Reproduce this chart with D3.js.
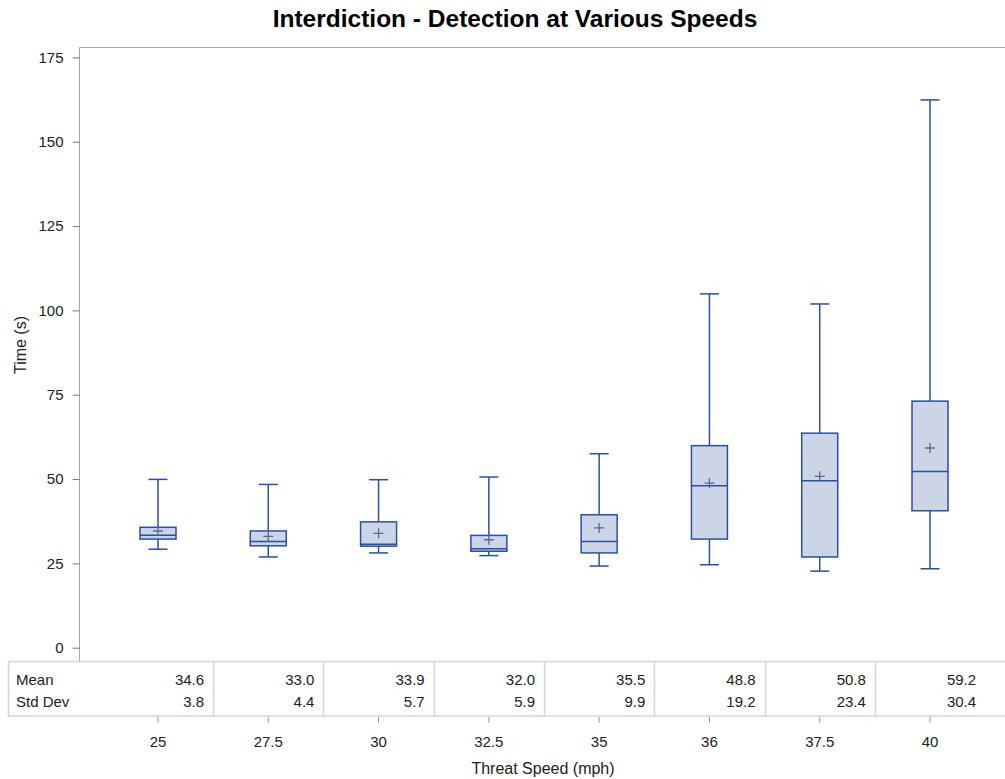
<!DOCTYPE html>
<html>
<head>
<meta charset="utf-8">
<script src="https://cdn.jsdelivr.net/npm/d3@7"></script>
<style>
  body { margin: 0; background: #fff; }
  svg { font-family: "Liberation Sans", Arial, sans-serif; }
</style>
</head>
<body>
<svg id="chart" width="1005" height="779"></svg>
<script>
"use strict";

// Data
var speeds   = ["25", "27.5", "30", "32.5", "35", "36", "37.5", "40"];
var whiskLow = [29.2, 26.9, 28.1, 27.3, 24.2, 24.6, 22.7, 23.4];
var q1       = [32.2, 30.2, 30.1, 28.6, 28.1, 32.2, 26.9, 40.6];
var median   = [33.3, 31.5, 30.7, 29.3, 31.5, 48.0, 49.5, 52.2];
var q3       = [35.7, 34.6, 37.3, 33.3, 39.4, 59.9, 63.6, 73.1];
var whiskHi  = [49.9, 48.4, 49.8, 50.6, 57.5, 104.9, 101.9, 162.4];
var means    = [34.6, 33.0, 33.9, 32.0, 35.5, 48.8, 50.8, 59.2];
var stdDevs  = [3.8, 4.4, 5.7, 5.9, 9.9, 19.2, 23.4, 30.4];
var yTicks   = [0, 25, 50, 75, 100, 125, 150, 175];

var svg = d3.select("#chart");

var lineColor = "#2a4fa6",
    fillColor = "#cbd5e6",
    meanColor = "#56679c",
    gridGrey  = "#d4d4d4",
    textColor = "#222";

// Scales
var x = d3.scaleBand()
    .domain(speeds)
    .range([102.85, 985.15])
    .padding(0);

var y = d3.scaleLinear()
    .domain([0, 175])
    .range([647.7, 57.4]);

var boxW = 36, capW = 19;

// Title
svg.append("text")
    .attr("x", 515)
    .attr("y", 27)
    .attr("text-anchor", "middle")
    .style("font-size", "24.5px")
    .style("font-weight", "bold")
    .attr("fill", "#000")
    .text("Interdiction - Detection at Various Speeds");

// Frame: left and top line
svg.append("line")
    .attr("x1", 79.5).attr("x2", 79.5)
    .attr("y1", 47.5).attr("y2", 662)
    .attr("stroke", "#a0a6aa");
svg.append("line")
    .attr("x1", 79.5).attr("x2", 1005)
    .attr("y1", 47.5).attr("y2", 47.5)
    .attr("stroke", "#a0a6aa");

// Y axis
var yAxis = svg.append("g")
    .attr("transform", "translate(79.5,0)")
    .call(d3.axisLeft(y).tickValues(yTicks).tickSize(7).tickPadding(9));
yAxis.select(".domain").remove();
yAxis.selectAll(".tick line").attr("stroke", "#777");
yAxis.selectAll(".tick text")
    .attr("fill", textColor)
    .style("font-size", "15px")
    .style("font-family", "Liberation Sans, Arial, sans-serif");

svg.append("text")
    .attr("transform", "translate(26,345) rotate(-90)")
    .attr("text-anchor", "middle")
    .style("font-size", "16px")
    .attr("fill", textColor)
    .text("Time (s)");

// Boxes
var boxes = svg.append("g").attr("class", "boxes")
    .selectAll("g")
    .data(speeds)
    .enter()
    .append("g")
    .attr("transform", function (d) {
        return "translate(" + (x(d) + x.bandwidth() / 2) + ",0)";
    });

// whiskers
boxes.append("line")
    .attr("x1", 0).attr("x2", 0)
    .attr("y1", function (d, i) { return y(whiskHi[i]); })
    .attr("y2", function (d, i) { return y(q3[i]); })
    .attr("stroke", lineColor).attr("stroke-width", 1.5);
boxes.append("line")
    .attr("x1", 0).attr("x2", 0)
    .attr("y1", function (d, i) { return y(q1[i]); })
    .attr("y2", function (d, i) { return y(whiskLow[i]); })
    .attr("stroke", lineColor).attr("stroke-width", 1.5);
boxes.append("line")
    .attr("x1", -capW / 2).attr("x2", capW / 2)
    .attr("y1", function (d, i) { return y(whiskHi[i]); })
    .attr("y2", function (d, i) { return y(whiskHi[i]); })
    .attr("stroke", lineColor).attr("stroke-width", 1.5);
boxes.append("line")
    .attr("x1", -capW / 2).attr("x2", capW / 2)
    .attr("y1", function (d, i) { return y(whiskLow[i]); })
    .attr("y2", function (d, i) { return y(whiskLow[i]); })
    .attr("stroke", lineColor).attr("stroke-width", 1.5);

// box
boxes.append("rect")
    .attr("x", -boxW / 2)
    .attr("width", boxW)
    .attr("y", function (d, i) { return y(q3[i]); })
    .attr("height", function (d, i) { return y(q1[i]) - y(q3[i]); })
    .attr("fill", fillColor)
    .attr("stroke", lineColor)
    .attr("stroke-width", 1.5);

// median
boxes.append("line")
    .attr("x1", -boxW / 2).attr("x2", boxW / 2)
    .attr("y1", function (d, i) { return y(median[i]); })
    .attr("y2", function (d, i) { return y(median[i]); })
    .attr("stroke", lineColor).attr("stroke-width", 1.5);

// mean marker
boxes.append("path")
    .attr("d", function (d, i) {
        var my = y(means[i]);
        return "M-5," + my + "H5M0," + (my - 5) + "V" + (my + 5);
    })
    .attr("stroke", meanColor)
    .attr("stroke-width", 1.3)
    .attr("fill", "none");

// Statistics table
var tableTop = 661.5, tableBot = 716, tableLeft = 8.5;
var table = svg.append("g").attr("class", "stats");

table.append("rect")
    .attr("x", tableLeft)
    .attr("y", tableTop)
    .attr("width", 1005 - tableLeft + 2)
    .attr("height", tableBot - tableTop)
    .attr("fill", "none")
    .attr("stroke", gridGrey)
    .attr("stroke-width", 1.5);

table.selectAll(".divider")
    .data(speeds.slice(1))
    .enter()
    .append("line")
    .attr("class", "divider")
    .attr("x1", function (d) { return Math.round(x(d)) + 0.5; })
    .attr("x2", function (d) { return Math.round(x(d)) + 0.5; })
    .attr("y1", tableTop)
    .attr("y2", tableBot)
    .attr("stroke", gridGrey)
    .attr("stroke-width", 1.5);

table.append("text")
    .attr("x", 16).attr("y", 684.5)
    .style("font-size", "15px").attr("fill", textColor)
    .text("Mean");
table.append("text")
    .attr("x", 16).attr("y", 707)
    .style("font-size", "15px").attr("fill", textColor)
    .text("Std Dev");

table.selectAll(".meanVal")
    .data(speeds)
    .enter()
    .append("text")
    .attr("class", "meanVal")
    .attr("x", function (d) { return x(d) + x.bandwidth() - 9; })
    .attr("y", 684.5)
    .attr("text-anchor", "end")
    .style("font-size", "15px").attr("fill", textColor)
    .text(function (d, i) { return means[i].toFixed(1); });

table.selectAll(".sdVal")
    .data(speeds)
    .enter()
    .append("text")
    .attr("class", "sdVal")
    .attr("x", function (d) { return x(d) + x.bandwidth() - 9; })
    .attr("y", 707)
    .attr("text-anchor", "end")
    .style("font-size", "15px").attr("fill", textColor)
    .text(function (d, i) { return stdDevs[i].toFixed(1); });

// X axis below table
var xAxis = svg.append("g")
    .attr("transform", "translate(0,717)")
    .call(d3.axisBottom(x).tickSize(6).tickPadding(13));
xAxis.select(".domain").remove();
xAxis.selectAll(".tick line").attr("stroke", "#999");
xAxis.selectAll(".tick text")
    .attr("fill", textColor)
    .style("font-size", "15px")
    .style("font-family", "Liberation Sans, Arial, sans-serif");

svg.append("text")
    .attr("x", 543)
    .attr("y", 774)
    .attr("text-anchor", "middle")
    .style("font-size", "16px")
    .attr("fill", textColor)
    .text("Threat Speed (mph)");
</script>
</body>
</html>
